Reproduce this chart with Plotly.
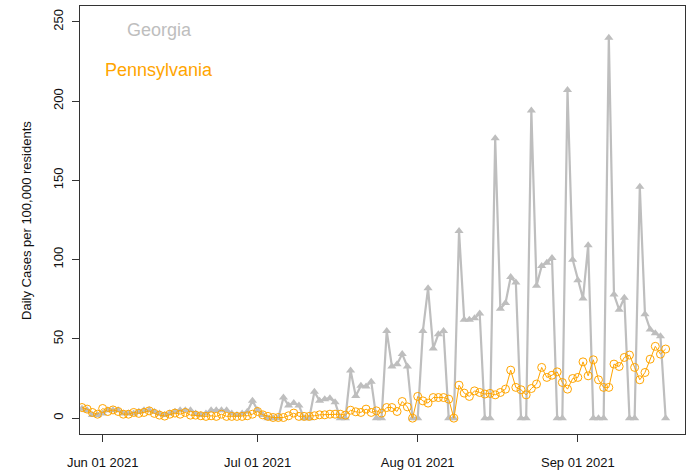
import pandas as pd
import plotly.graph_objects as go

# Daily reports, 28 May 2021 through 18 Sep 2021
dates = pd.date_range("2021-05-28", "2021-09-18", freq="D")

georgia = [
    6, 5, 2, 2,                                   # May 28-31
    3, 5, 5, 5, 3, 3, 3, 4, 5, 5,                 # Jun 1-10
    4, 3, 2, 3, 4, 5, 5, 5, 3, 2,                 # Jun 11-20
    3, 5, 5, 5, 5, 3, 2, 3, 4, 11,                # Jun 21-30
    5, 2, 0, 0, 0, 13, 8, 9.5, 8, 0,              # Jul 1-10
    0, 16.6, 11, 12, 12.6, 10, 0, 0, 30, 14,      # Jul 11-20
    20.4, 20, 23, 0, 0, 55, 32.6, 34, 40.4, 32.6, # Jul 21-30
    0,                                            # Jul 31
    0, 55, 82, 44, 53, 55, 0, 0, 118, 62,         # Aug 1-10
    62, 63, 66, 0, 0, 176.6, 69, 72.6, 89, 85.6,  # Aug 11-20
    0, 0, 194, 83.5, 96, 98, 101, 0, 0, 207,      # Aug 21-30
    100,                                          # Aug 31
    87, 75.5, 109, 0, 0, 0, 240, 78, 68.4, 76,    # Sep 1-10
    0, 0, 146, 65.6, 56, 53.5, 51.6, 0,           # Sep 11-18
]

pennsylvania = [
    6.7, 5.7, 3.6, 2.5,                           # May 28-31
    6.1, 4.2, 5.2, 4.2, 2.5, 2.5, 3.6, 3.0, 3.6, 4.6,   # Jun 1-10
    3.0, 1.9, 1.3, 2.5, 3.2, 2.5, 3.6, 1.9, 1.9, 1.5,   # Jun 11-20
    1.1, 1.5, 1.1, 2.5, 1.1, 1.1, 1.1, 1.1, 1.5, 2.5,   # Jun 21-30
    4.2, 2.1, 1.1, 0.4, 0.4, 0.4, 1.5, 3.2, 1.1, 1.1,   # Jul 1-10
    1.1, 1.5, 2.1, 2.1, 2.5, 2.5, 2.5, 1.9, 5.0, 4.0,   # Jul 11-20
    3.6, 5.7, 3.6, 4.6, 3.2, 6.7, 6.7, 4.2, 10.5, 7.1,  # Jul 21-30
    0,                                                  # Jul 31
    13.7, 10.9, 9.5, 13, 13, 13, 12, 0, 20.8, 15.8,     # Aug 1-10
    13.7, 17.2, 16.2, 15.2, 15.6, 14.7, 16.2, 18.3, 30.3, 19.4,  # Aug 11-20
    17.9, 14.7, 18.7, 21.5, 32, 25.7, 27.1, 29.2, 22.5, 18.3,    # Aug 21-30
    25,                                                          # Aug 31
    25.7, 35.5, 26.7, 36.8, 24.2, 19.4, 19.4, 34.1, 32.6, 38.3,  # Sep 1-10
    39.8, 32, 24.2, 28.8, 37.2, 45.3, 40.4, 43.6,                # Sep 11-18
]

tick_dates = ["2021-06-01", "2021-07-01", "2021-08-01", "2021-09-01"]
tick_labels = ["Jun 01 2021", "Jul 01 2021", "Aug 01 2021", "Sep 01 2021"]
y_ticks = [0, 50, 100, 150, 200, 250]

GRAY = "#BEBEBE"
ORANGE = "#FFA500"
FONT = "Liberation Sans, Arial, Helvetica, sans-serif"

fig = go.Figure()
fig.add_trace(go.Scatter(
    x=dates, y=georgia, mode="lines+markers", name="Georgia",
    line=dict(color=GRAY, width=2.2),
    marker=dict(symbol="triangle-up", size=8, color=GRAY),
))
fig.add_trace(go.Scatter(
    x=dates, y=pennsylvania, mode="lines+markers", name="Pennsylvania",
    line=dict(color=ORANGE, width=1),
    marker=dict(symbol="circle-open", size=8, color=ORANGE, line=dict(width=1)),
))

axis_common = dict(
    showgrid=False, zeroline=False, showline=True, mirror=True,
    linecolor="#333333", linewidth=1, ticks="outside", ticklen=7,
    tickcolor="#333333", tickfont=dict(family=FONT, size=13, color="#111111"),
)

fig.update_xaxes(
    type="date", range=["2021-05-27 14:40", "2021-09-21 18:00"],
    tickvals=tick_dates, ticktext=tick_labels, ticklabelstandoff=9,
    **axis_common,
)
fig.update_yaxes(
    range=[-10, 260], tickvals=y_ticks, tickangle=-90, ticklabelstandoff=4,
    **axis_common,
)

fig.add_annotation(
    text="Daily Cases per 100,000 residents", textangle=-90,
    xref="paper", yref="paper", x=-0.0893, y=0.5,
    xanchor="center", yanchor="middle", showarrow=False,
    font=dict(family=FONT, size=13, color="#111111"),
)
fig.add_annotation(
    text="Georgia", xref="paper", yref="paper", x=0.132, y=0.945,
    xanchor="center", yanchor="middle", showarrow=False,
    font=dict(family=FONT, size=18, color=GRAY),
)
fig.add_annotation(
    text="Pennsylvania", xref="paper", yref="paper", x=0.1306, y=0.8516,
    xanchor="center", yanchor="middle", showarrow=False,
    font=dict(family=FONT, size=18, color=ORANGE),
)

fig.update_layout(
    width=692, height=476, showlegend=False,
    margin=dict(l=80, r=7, t=6, b=42),
    paper_bgcolor="white", plot_bgcolor="white",
)

fig.write_html("out.html")
